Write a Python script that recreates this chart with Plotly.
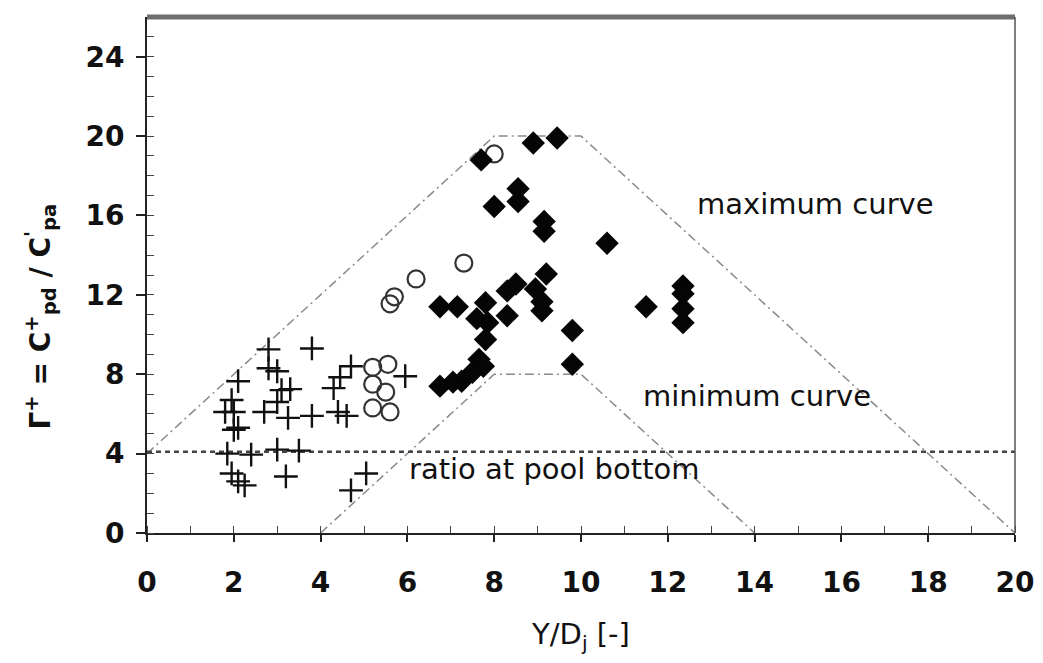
import plotly.graph_objects as go

# Envelope curves of the pressure ratio
max_curve_x = [0, 8, 10, 20]
max_curve_y = [4, 20, 20, 0]
min_curve_x = [4, 8, 10, 14]
min_curve_y = [0, 8, 8, 0]
pool_bottom_x = [0, 20]
pool_bottom_y = [4.1, 4.1]

# Measurements: crosses
plus_x = [2.8, 3.8, 2.8, 3.0, 2.1, 3.1, 3.3, 3.0, 1.95, 1.8, 2.0, 2.7, 3.25, 3.8,
          2.1, 2.0, 4.7, 4.45, 4.3, 4.6, 4.4, 5.95, 1.85, 2.4, 3.0, 3.5, 1.95, 2.1,
          2.25, 3.2, 5.05, 4.7]
plus_y = [9.25, 9.3, 8.3, 8.15, 7.65, 7.2, 7.25, 6.6, 6.7, 6.1, 6.1, 6.1, 5.8, 5.9,
          5.3, 5.2, 8.4, 7.85, 7.3, 5.9, 6.1, 7.9, 4.0, 3.95, 4.2, 4.15, 3.0, 2.6,
          2.4, 2.85, 3.0, 2.15]

# Measurements: open circles
circle_x = [6.2, 5.7, 5.6, 7.3, 8.0, 5.2, 5.55, 5.2, 5.5, 5.2, 5.6]
circle_y = [12.8, 11.9, 11.55, 13.6, 19.1, 8.35, 8.5, 7.5, 7.1, 6.3, 6.1]

# Measurements: filled diamonds
diamond_x = [7.7, 8.9, 9.45, 8.55, 8.55, 8.0, 9.15, 9.15, 10.6, 9.2, 8.5, 8.3, 8.95,
             9.1, 9.1, 8.3, 6.75, 7.15, 7.8, 7.6, 7.85, 7.8, 9.8, 9.8, 7.65, 7.75,
             7.5, 7.25, 7.05, 6.75, 11.5, 12.35, 12.35, 12.35, 12.35]
diamond_y = [18.8, 19.65, 19.9, 17.35, 16.7, 16.45, 15.7, 15.2, 14.6, 13.05, 12.55,
             12.2, 12.3, 11.65, 11.2, 10.95, 11.4, 11.4, 11.6, 10.8, 10.6, 9.75, 10.2,
             8.5, 8.75, 8.4, 8.1, 7.65, 7.6, 7.4, 11.4, 12.45, 12.05, 11.3, 10.6]

x_ticks = [0, 2, 4, 6, 8, 10, 12, 14, 16, 18, 20]
y_ticks = [0, 4, 8, 12, 16, 20, 24]

FONT = "DejaVu Sans, Verdana, sans-serif"
TICK_FONT = dict(family=FONT, size=28, color="#111111", weight="bold")

fig = go.Figure()

fig.add_trace(go.Scatter(x=max_curve_x, y=max_curve_y, mode="lines",
                         line=dict(color="#8a8a8a", width=1.5, dash="9px,4px,2px,4px"),
                         hoverinfo="skip"))
fig.add_trace(go.Scatter(x=min_curve_x, y=min_curve_y, mode="lines",
                         line=dict(color="#8a8a8a", width=1.5, dash="9px,4px,2px,4px"),
                         hoverinfo="skip"))
fig.add_trace(go.Scatter(x=pool_bottom_x, y=pool_bottom_y, mode="lines",
                         line=dict(color="#444444", width=2.5, dash="5px,4px"),
                         hoverinfo="skip"))

fig.add_trace(go.Scatter(x=plus_x, y=plus_y, mode="markers",
                         marker=dict(symbol="cross-thin", size=17, color="#111111",
                                     line=dict(color="#111111", width=2.4))))
fig.add_trace(go.Scatter(x=circle_x, y=circle_y, mode="markers",
                         marker=dict(symbol="circle-open", size=17, color="#333333",
                                     line=dict(color="#333333", width=2.2))))
fig.add_trace(go.Scatter(x=diamond_x, y=diamond_y, mode="markers",
                         marker=dict(symbol="diamond", size=18, color="#050505",
                                     line=dict(width=0))))

annot_font = dict(family=FONT, size=29, color="#111111")
fig.add_annotation(x=15.4, y=16.6, text="maximum curve", showarrow=False, font=annot_font)
fig.add_annotation(x=14.05, y=6.9, text="minimum curve", showarrow=False, font=annot_font)
fig.add_annotation(x=9.4, y=3.2, text="ratio at pool bottom", showarrow=False, font=annot_font)

# Vertical axis title, placed slightly below the plot's mid-height
fig.add_annotation(
    xref="paper", yref="paper", x=-0.123, y=0.42, xanchor="center", yanchor="middle",
    text="Γ<sup>+</sup> = C<sup>+</sup><sub>pd</sub> / C<sup>'</sup><sub>pa</sub>",
    textangle=-90, showarrow=False,
    font=dict(family=FONT, size=28, color="#111111", weight="bold"),
)

# Frame: thick grey top edge and thin right edge
fig.add_shape(type="line", xref="paper", yref="paper", x0=0, x1=1, y0=1, y1=1,
              line=dict(color="#6f6f6f", width=5))
fig.add_shape(type="line", xref="paper", yref="paper", x0=1, x1=1, y0=0, y1=1,
              line=dict(color="#555555", width=1.5))

fig.update_layout(
    width=1043, height=663,
    margin=dict(l=147, r=28, t=17, b=130),
    plot_bgcolor="white", paper_bgcolor="white",
    showlegend=False,
    font=dict(family=FONT, color="#111111"),
    xaxis=dict(
        range=[0, 20], tickvals=x_ticks, ticktext=[str(v) for v in x_ticks],
        automargin=False,
        showgrid=False, zeroline=False, showline=True, linecolor="#222222", linewidth=2,
        ticks="outside", ticklen=7, tickwidth=1.5, tickcolor="#222222",
        ticklabelstandoff=16,
        tickfont=TICK_FONT,
        minor=dict(dtick=1, ticks="inside", ticklen=7, tickcolor="#444444", tickwidth=1),
        title=dict(text="Y/D<sub>j</sub> [-]", font=dict(family=FONT, size=29),
                   standoff=26),
    ),
    yaxis=dict(
        range=[0, 26], tickvals=y_ticks, ticktext=[str(v) for v in y_ticks],
        automargin=False,
        showgrid=False, zeroline=False, showline=True, linecolor="#222222", linewidth=2,
        ticks="outside", ticklen=9, tickwidth=1.5, tickcolor="#222222",
        ticklabelstandoff=6,
        tickfont=TICK_FONT,
        minor=dict(dtick=1, ticks="inside", ticklen=7, tickcolor="#444444", tickwidth=1),
    ),
)

fig.write_html("out.html")
